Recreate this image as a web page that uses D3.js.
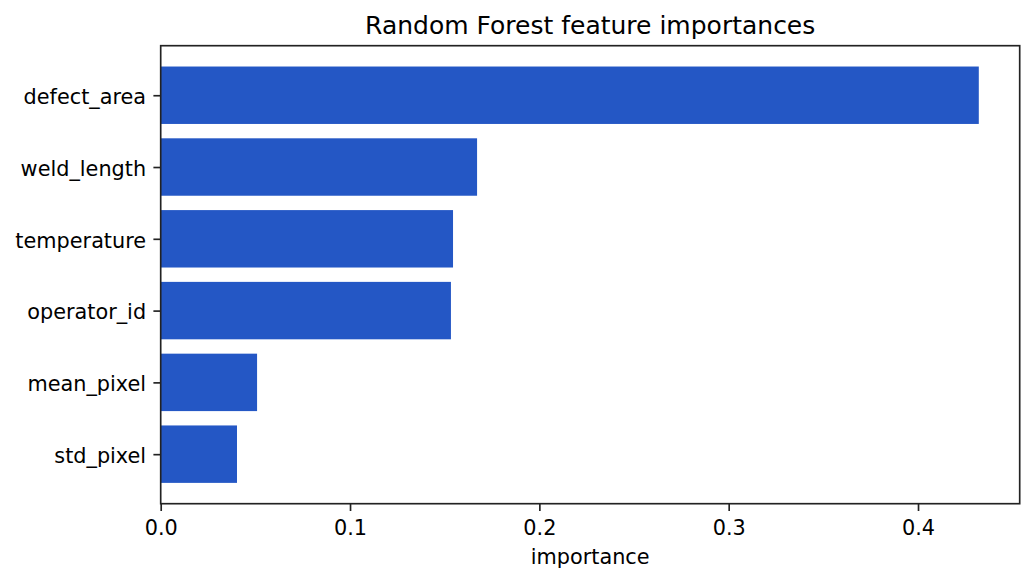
<!DOCTYPE html>
<html>
<head>
<meta charset="utf-8">
<script src="https://cdn.jsdelivr.net/npm/d3@7"></script>
<style>
  body { margin: 0; background: #fff; }
  svg text { font-family: "DejaVu Sans", sans-serif; fill: #000; }
</style>
</head>
<body>
<div id="chart"></div>
<script>
// feature names, top to bottom as shown
const features = ['defect_area', 'weld_length', 'temperature', 'operator_id', 'mean_pixel', 'std_pixel'];
const importances = [0.4321, 0.1671, 0.1544, 0.1533, 0.0509, 0.0403];
const xTicks = [0.0, 0.1, 0.2, 0.3, 0.4];

const W = 1035, H = 582;
const margin = { top: 45.7, right: 1035 - 1019.7, bottom: 582 - 503.7, left: 160.7 };
const width = W - margin.left - margin.right,
    height = H - margin.top - margin.bottom;

const svg = d3.select("#chart")
    .append("svg")
    .attr("width", W)
    .attr("height", H);

const g = svg.append("g")
    .attr("transform", `translate(${margin.left},${margin.top})`);

// matplotlib-like limits: 5% margin on the data range
const xMax = d3.max(importances) * 1.05;
const x = d3.scaleLinear().domain([0, xMax]).range([0, width]);

// bar index: top bar is index 0; bars span i-0.4..i+0.4
const n = features.length;
const pad = (n - 1 + 0.8) * 0.05;
const y = d3.scaleLinear().domain([-0.4 - pad, n - 1 + 0.4 + pad]).range([0, height]);

g.selectAll("rect.bar")
    .data(features)
    .enter().append("rect")
    .attr("class", "bar")
    .attr("x", x(0))
    .attr("y", (d, i) => y(i - 0.4))
    .attr("width", (d, i) => x(importances[i]) - x(0))
    .attr("height", (d, i) => y(i + 0.4) - y(i - 0.4))
    .attr("fill", "#2457c5");

const fs = 20.8;
const tickLen = 7.3;

// x axis
const xAxis = g.append("g")
    .attr("transform", `translate(0,${height})`)
    .call(d3.axisBottom(x).tickValues(xTicks).tickFormat(d3.format(".1f"))
        .tickSize(tickLen).tickPadding(7.3));
xAxis.select(".domain").remove();
xAxis.selectAll(".tick line").attr("stroke", "#222").attr("stroke-width", 1.67);
xAxis.selectAll(".tick text")
    .attr("font-size", fs)
    .attr("y", 535 - 503.7)
    .attr("dy", null);

// y axis
const yAxis = g.append("g")
    .call(d3.axisLeft(y).tickValues(d3.range(n)).tickFormat(i => features[i])
        .tickSize(tickLen).tickPadding(7.3));
yAxis.select(".domain").remove();
yAxis.selectAll(".tick line").attr("stroke", "#222").attr("stroke-width", 1.67);
yAxis.selectAll(".tick text")
    .attr("font-size", fs)
    .attr("dy", "0.4em");

// frame
g.append("rect")
    .attr("x", 0).attr("y", 0)
    .attr("width", width).attr("height", height)
    .attr("fill", "none")
    .attr("stroke", "#222")
    .attr("stroke-width", 1.67);

// title and label
svg.append("text")
    .attr("x", margin.left + width / 2)
    .attr("y", 34.3)
    .attr("text-anchor", "middle")
    .attr("font-size", 25)
    .text("Random Forest feature importances");

svg.append("text")
    .attr("x", margin.left + width / 2)
    .attr("y", 564.3)
    .attr("text-anchor", "middle")
    .attr("font-size", fs)
    .text("importance");
</script>
</body>
</html>
